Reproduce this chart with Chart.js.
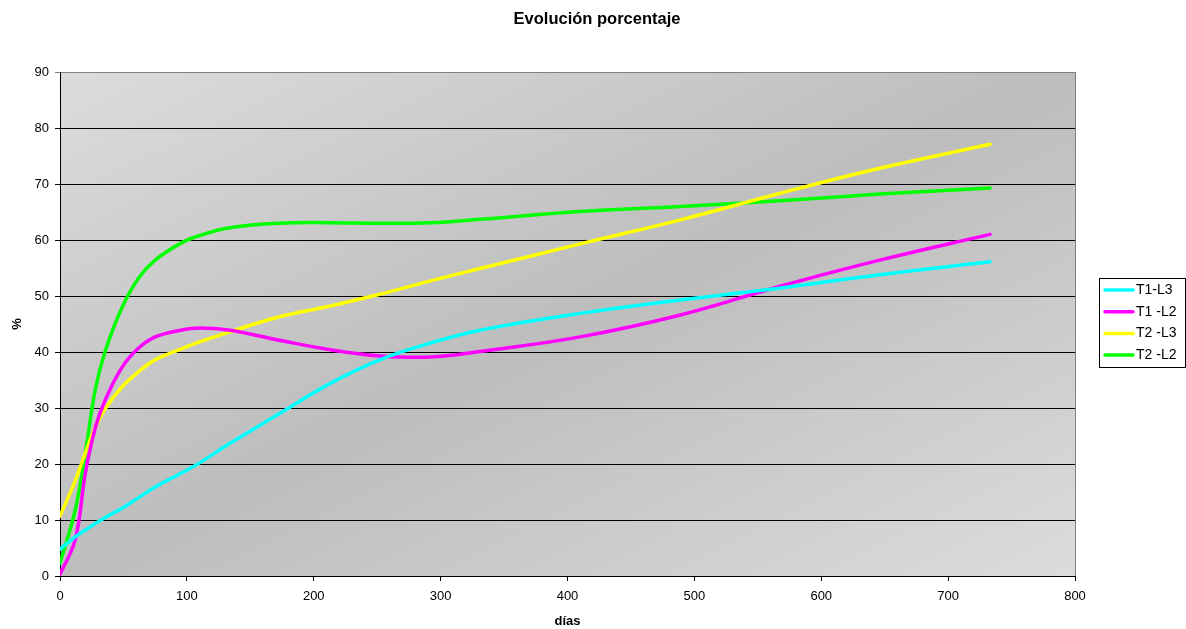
<!DOCTYPE html>
<html>
<head>
<meta charset="utf-8">
<script src="https://cdn.jsdelivr.net/npm/chart.js"></script>
<title>Evolución porcentaje</title>
<style>
    body { margin: 0; background: #fff; }
</style>
</head>
<body>
<canvas id="chart" width="1186" height="629"></canvas>

<script>
    var days  = [0, 12, 20, 28, 36, 49, 62, 75, 95, 110, 134, 173, 213, 252, 292, 331, 410, 489, 567, 646, 733];
    var t1L3  = [4.8, 7.0, 8.2, 9.4, 10.5, 12.1, 14.0, 15.9, 18.3, 20.2, 23.7, 29.0, 34.4, 38.6, 41.6, 43.9, 46.9, 49.3, 51.4, 53.8, 56.1];
    var t1L2  = [0.3, 6.5, 18.4, 26.6, 31.6, 37.3, 40.7, 42.7, 43.9, 44.3, 43.9, 42.1, 40.4, 39.3, 39.1, 40.1, 42.7, 46.6, 51.7, 56.4, 61.0];
    var t2L3  = [10.7, 17.0, 22.0, 26.6, 30.0, 33.8, 36.5, 38.6, 40.5, 41.8, 43.6, 46.3, 48.2, 50.3, 52.7, 54.9, 59.3, 63.6, 68.3, 72.8, 77.1];
    var t2L2  = [2.3, 11.8, 22.0, 33.5, 40.4, 48.0, 53.2, 56.4, 59.4, 60.8, 62.2, 63.0, 63.1, 63.0, 63.1, 63.7, 65.1, 66.0, 67.0, 68.2, 69.3];
    var seriesNames = ['T1-L3', 'T1 -L2', 'T2 -L3', 'T2 -L2'];
    var seriesColors = ['#00ffff', '#ff00ff', '#ffff00', '#00ff00'];

    var FONT = "'Liberation Sans', Arial, sans-serif";

    var toPoints = function(vals) {
        return days.map(function(d, i) { return {x: d, y: vals[i]}; });
    };

    var datasets = [t1L3, t1L2, t2L3, t2L2].map(function(vals, i) {
        return {
            label: seriesNames[i],
            data: toPoints(vals),
            borderColor: seriesColors[i],
            backgroundColor: seriesColors[i],
            borderWidth: 3.5,
            borderCapStyle: 'round',
            pointRadius: 0,
            tension: 0.4,
            fill: false
        };
    });

    var plotExtras = {
        id: 'plotExtras',
        // grey diagonal gradient behind the plot (corner to corner, like Excel)
        beforeDraw: function(chart) {
            var a = chart.chartArea, ctx = chart.ctx;
            var W = a.right - a.left, H = a.bottom - a.top;
            var cx = a.left + W / 2, cy = a.top + H / 2;
            var k = W * H / (W * W + H * H);
            var g = ctx.createLinearGradient(cx - H * k, cy - W * k, cx + H * k, cy + W * k);
            g.addColorStop(0, '#dcdcdc');
            g.addColorStop(0.5, '#bdbdbd');
            g.addColorStop(1, '#dcdcdc');
            ctx.save();
            ctx.fillStyle = g;
            ctx.fillRect(a.left, a.top, W, H);
            ctx.restore();
        },
        afterDraw: function(chart) {
            var a = chart.chartArea, ctx = chart.ctx;
            ctx.save();
            // right border of plot
            ctx.strokeStyle = '#808080';
            ctx.lineWidth = 1;
            ctx.beginPath();
            ctx.moveTo(a.right + 0.5, a.top);
            ctx.lineTo(a.right + 0.5, a.bottom);
            ctx.stroke();

            // title, centred on the whole picture
            ctx.fillStyle = '#000';
            ctx.font = 'bold 16.5px ' + FONT;
            ctx.textAlign = 'center';
            ctx.textBaseline = 'middle';
            ctx.fillText('Evolución porcentaje', 597, 19);

            // legend box
            ctx.fillStyle = '#fff';
            ctx.fillRect(1099.5, 278.5, 86, 89);
            ctx.strokeStyle = '#000';
            ctx.strokeRect(1099.5, 278.5, 86, 89);
            chart.data.datasets.forEach(function(ds, i) {
                var y = 290 + i * 21.7;
                ctx.strokeStyle = ds.borderColor;
                ctx.lineWidth = 3.5;
                ctx.lineCap = 'round';
                ctx.beginPath();
                ctx.moveTo(1105, y);
                ctx.lineTo(1133, y);
                ctx.stroke();
                ctx.fillStyle = '#000';
                ctx.font = '14px ' + FONT;
                ctx.textBaseline = 'middle';
                ctx.textAlign = 'left';
                ctx.fillText(ds.label, 1136, y);
            });
            ctx.restore();
        }
    };

    new Chart(document.getElementById('chart'), {
        type: 'line',
        data: { datasets: datasets },
        options: {
            responsive: false,
            animation: false,
            layout: { padding: { left: 0, right: 111, top: 72, bottom: 0 } },
            plugins: {
                legend: { display: false },
                tooltip: { enabled: false },
                title: { display: false }
            },
            scales: {
                x: {
                    type: 'linear',
                    min: 0,
                    max: 800,
                    afterFit: function(axis) { axis.height = 53; },
                    ticks: { stepSize: 100, color: '#000', padding: 8, font: { family: FONT, size: 13 } },
                    grid: { drawOnChartArea: false, color: '#000', tickLength: 5 },
                    border: { color: '#000' },
                    title: {
                        display: true,
                        text: 'días',
                        color: '#000',
                        font: { family: FONT, size: 13, weight: 'bold' },
                        padding: { top: 0, bottom: 0 }
                    }
                },
                y: {
                    min: 0,
                    max: 90,
                    afterFit: function(axis) { axis.width = 60; },
                    ticks: { stepSize: 10, color: '#000', padding: 6, font: { family: FONT, size: 13 } },
                    grid: {
                        color: function(c) { return c.tick && c.tick.value === 90 ? '#808080' : '#000'; },
                        tickLength: 5
                    },
                    border: { color: '#000' },
                    title: {
                        display: true,
                        text: '%',
                        color: '#000',
                        font: { family: FONT, size: 13, weight: 'bold' },
                        padding: { top: 10, bottom: 0 }
                    }
                }
            }
        },
        plugins: [plotExtras]
    });
</script>
</body>
</html>
